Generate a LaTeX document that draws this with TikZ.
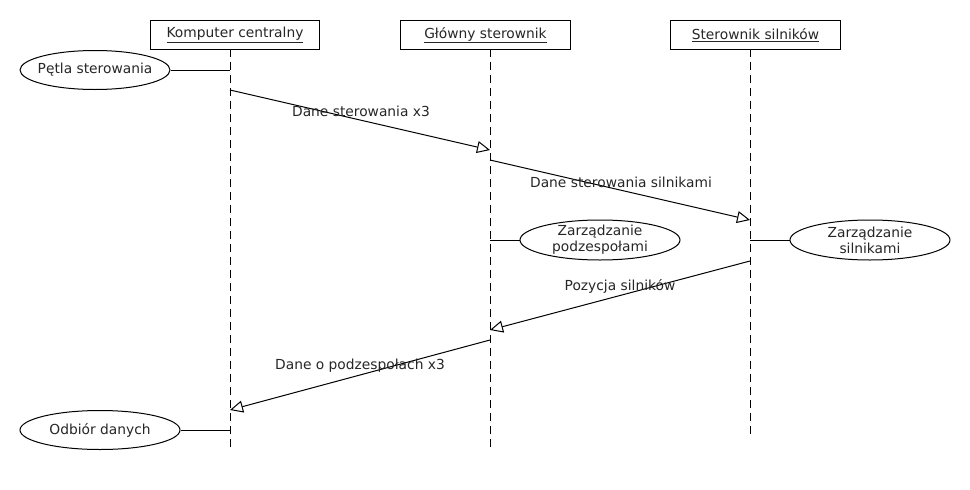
\documentclass[tikz,border=0pt]{standalone}
\usepackage{fontspec}
\setmainfont{DejaVu Sans}
\usetikzlibrary{arrows.meta,shapes.geometric}
\begin{document}
\begin{tikzpicture}[x=1pt,y=-1pt,
  every node/.style={font=\fontsize{13.8}{16}\selectfont, text=black!85},
  actorbox/.style={draw, line width=1pt, minimum height=29pt, inner sep=0pt, anchor=north west},
  lifeline/.style={line width=1pt, dash pattern=on 8pt off 5pt},
  msg/.style={line width=1pt, -{Triangle[open,length=13pt,width=12pt,fill=white]}},
  actell/.style={draw, ellipse, line width=1pt, inner sep=0pt},
  link/.style={line width=1pt},
  lbl/.style={inner sep=0pt}
]
\useasboundingbox (0,0) rectangle (970,490);
% actor boxes
\node[actorbox, minimum width=169pt] (b1) at (150,20) {\underline{Komputer centralny}};
\node[actorbox, minimum width=170pt] (b2) at (400,20) {\underline{Główny sterownik}};
\node[actorbox, minimum width=170pt] (b3) at (670,20) {\underline{Sterownik silników}};
% lifelines
\coordinate (l1t) at (230,49); \coordinate (l1b) at (230,450);
\coordinate (l2t) at (490,49); \coordinate (l2b) at (490,450);
\coordinate (l3t) at (750,49); \coordinate (l3b) at (750,438);
\draw[lifeline] (l1t) -- (l1b);
\draw[lifeline] (l2t) -- (l2b);
\draw[lifeline] (l3t) -- (l3b);
% ellipses
\node[actell, minimum width=150pt, minimum height=39pt] (e1) at (95,70) {};
\node at (e1) {Pętla sterowania};
\node[actell, minimum width=160pt, minimum height=40pt] (e2) at (600,240) {};
\node[align=center] at (e2) {Zarządzanie\\podzespołami};
\node[actell, minimum width=160pt, minimum height=40pt] (e3) at (870,240) {};
\node[align=center] at (e3) {Zarządzanie\\silnikami};
\node[actell, minimum width=160pt, minimum height=39pt] (e4) at (100,430) {};
\node at (e4) {Odbiór danych};
% links to lifelines
\coordinate (k1) at (230,70);
\coordinate (k2) at (490,240);
\coordinate (k3) at (750,240);
\coordinate (k4) at (230,430);
\draw[link] (e1.east) -- (k1);
\draw[link] (k2) -- (e2.west);
\draw[link] (k3) -- (e3.west);
\draw[link] (e4.east) -- (k4);
% messages
\coordinate (m1s) at (230,90);  \coordinate (m1e) at (490,150);
\coordinate (m2s) at (490,160); \coordinate (m2e) at (750,220);
\coordinate (m3s) at (750,261); \coordinate (m3e) at (490,330);
\coordinate (m4s) at (490,340); \coordinate (m4e) at (230,410);
\draw[msg] (m1s) -- (m1e);
\draw[msg] (m2s) -- (m2e);
\draw[msg] (m3s) -- (m3e);
\draw[msg] (m4s) -- (m4e);
\node[lbl] (t1) at (361,111) {Dane sterowania x3};
\node[lbl] (t2) at (621,182) {Dane sterowania silnikami};
\node[lbl] (t3) at (620,286) {Pozycja silników};
\node[lbl] (t4) at (360,366) {Dane o podzespołach x3};
\end{tikzpicture}
\end{document}
